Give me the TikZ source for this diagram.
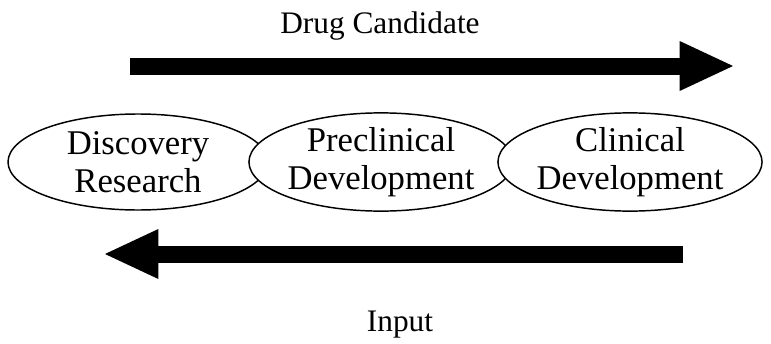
\documentclass[tikz,border=0pt]{standalone}
\usepackage{fontspec}
\setmainfont{Liberation Serif}
\usetikzlibrary{arrows.meta,shapes.geometric}

\begin{document}
\begin{tikzpicture}[x=0.75pt,y=-0.75pt,
    stage/.style={draw, ellipse, fill=white, line width=1.1pt, inner sep=0pt,
        minimum width=195pt, minimum height=72pt, align=center,
        font=\fontsize{26}{28.5}\selectfont},
    flow/.style={line width=12.75pt,
        -{Triangle[length=40pt, width=37.5pt, line width=0pt]}},
    label/.style={font=\fontsize{23.5}{26}\selectfont}]
    \useasboundingbox (0,0) rectangle (771,343);

    \node[stage] (discovery) at (138,162) {Discovery\\Research};
    \node[stage] (preclinical) at (381,162) {Preclinical\\Development};
    \node[stage] (clinical) at (630,162) {Clinical\\Development};

    \coordinate (candstart) at (130,66);
    \coordinate (candend) at (733,66);
    \coordinate (inputstart) at (683,254);
    \coordinate (inputend) at (105,254);

    \draw[flow] (candstart) -- (candend);
    \draw[flow] (inputstart) -- (inputend);

    \node[label, anchor=base] (candidate) at (380,33) {Drug Candidate};
    \node[label, anchor=base] (input) at (400,331) {Input};
\end{tikzpicture}
\end{document}
